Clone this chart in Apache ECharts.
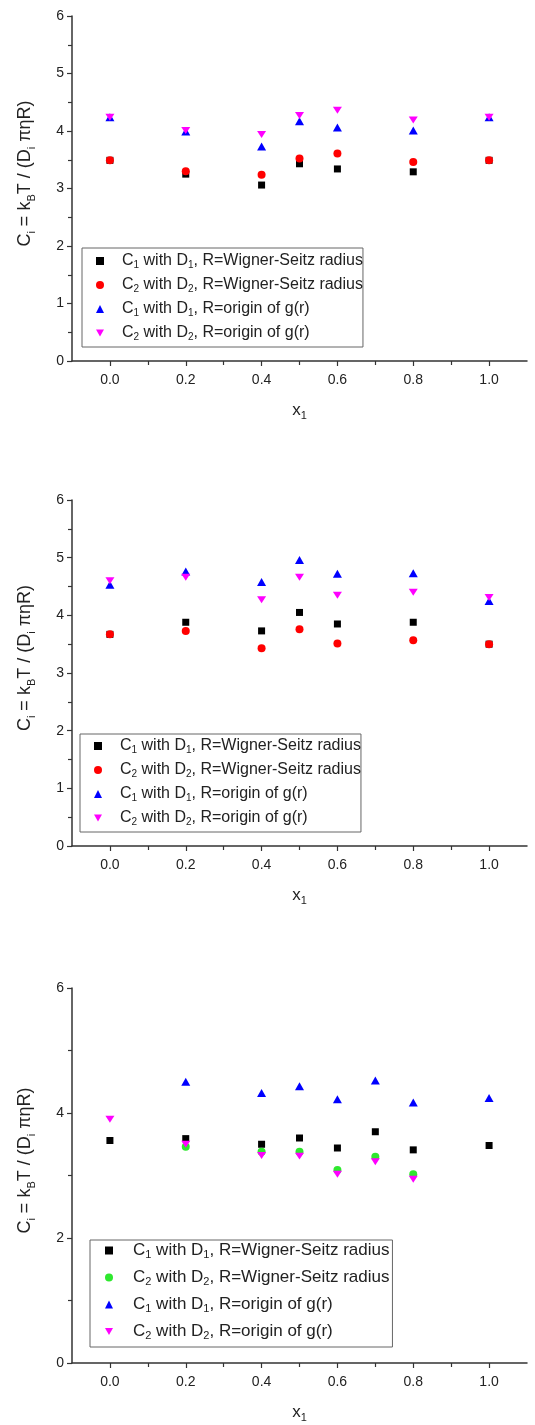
<!DOCTYPE html>
<html><head><meta charset="utf-8">
<script src="https://cdn.jsdelivr.net/npm/echarts@6/dist/echarts.min.js"></script>
<style>html,body{margin:0;padding:0;background:#fff}#c{width:535px;height:1425px}</style>
</head><body><div id="c"></div>
<script>
// ---- data ----
const xs12 = [0, 0.2, 0.4, 0.5, 0.6, 0.8, 1.0];
const p1_c1ws = [3.49, 3.25, 3.06, 3.43, 3.34, 3.29, 3.49];
const p1_c2ws = [3.49, 3.30, 3.24, 3.52, 3.61, 3.46, 3.49];
const p1_c1g  = [4.24, 3.99, 3.73, 4.17, 4.06, 4.01, 4.24];
const p1_c2g  = [4.24, 4.01, 3.94, 4.27, 4.36, 4.19, 4.24];

const p2_c1ws = [3.67, 3.88, 3.73, 4.05, 3.85, 3.88, 3.50];
const p2_c2ws = [3.67, 3.73, 3.43, 3.76, 3.51, 3.57, 3.50];
const p2_c1g  = [4.53, 4.76, 4.58, 4.96, 4.72, 4.73, 4.25];
const p2_c2g  = [4.60, 4.66, 4.27, 4.66, 4.35, 4.40, 4.31];

const xs3 = [0, 0.2, 0.4, 0.5, 0.6, 0.7, 0.8, 1.0];
const p3_c1ws = [3.56, 3.59, 3.50, 3.60, 3.44, 3.70, 3.41, 3.48];
const p3_c2ws = [null, 3.46, 3.38, 3.38, 3.09, 3.30, 3.02, null];
const p3_c1g  = [null, 4.50, 4.32, 4.43, 4.22, 4.52, 4.17, 4.24];
const p3_c2g  = [3.90, 3.50, 3.32, 3.31, 3.02, 3.22, 2.94, null];

const xMajorTicks = [0, 0.2, 0.4, 0.6, 0.8, 1.0];
const xMinorTicks = [0.1, 0.3, 0.5, 0.7, 0.9];
const legendLabels = [
  'C{sub|1} with D{sub|1}, R=Wigner-Seitz radius',
  'C{sub|2} with D{sub|2}, R=Wigner-Seitz radius',
  'C{sub|1} with D{sub|1}, R=origin of g(r)',
  'C{sub|2} with D{sub|2}, R=origin of g(r)'
];
const yName = 'C{sub|i} = k{sub|B}T / (D{sub|i} πηR)';
const xName = 'x{sub|1}';

// ---- layout ----
const panels = [
  {top: 16, height: 345, yInterval: 1, legendLeft: 82, legendTop: 248, fs: 16, lh: 18, gap: 6, pad: [4, 0, 5, 14], tpad: 13,
   xs: xs12, series: [p1_c1ws, p1_c2ws, p1_c1g, p1_c2g], colors: ['#000000', '#ff0000', '#0000ff', '#ff00ff']},
  {top: 500, height: 346, yInterval: 1, legendLeft: 80, legendTop: 734, fs: 16, lh: 18, gap: 6, pad: [3, 0, 5, 14], tpad: 13,
   xs: xs12, series: [p2_c1ws, p2_c2ws, p2_c1g, p2_c2g], colors: ['#000000', '#ff0000', '#0000ff', '#ff00ff']},
  {top: 988, height: 375, yInterval: 2, legendLeft: 90, legendTop: 1240, fs: 17, lh: 19, gap: 8, pad: [1, 3, 6, 15], tpad: 15,
   xs: xs3, series: [p3_c1ws, p3_c2ws, p3_c1g, p3_c2g], colors: ['#000000', '#2ee82e', '#0000ff', '#ff00ff']}
];
const downTri = 'path://M0,0L10,0L5,8.7Z';
const symbols = [['rect', 7], ['circle', 8], ['triangle', [9, 8]], [downTri, [9, 8]]];
const axisColor = '#333';
const textColor = '#222';
const font = 'Liberation Sans, Arial, sans-serif';
const subRich = (fs) => ({ sub: {fontSize: Math.round(fs * 0.62), verticalAlign: 'bottom', lineHeight: 10, fontFamily: font, color: textColor} });

const grid = [], xAxis = [], yAxis = [], series = [], legend = [];
panels.forEach((p, gi) => {
  grid.push({left: 72, width: 455, top: p.top, height: p.height});
  xAxis.push({
    type: 'value', gridIndex: gi, min: -0.1, max: 1.1,
    axisLine: {onZero: false, lineStyle: {color: axisColor, width: 1.5}},
    axisTick: {customValues: xMajorTicks, length: 5, lineStyle: {color: axisColor, width: 1.2}},
    axisLabel: {customValues: xMajorTicks, formatter: v => v.toFixed(1), fontSize: 14, color: textColor, fontFamily: font, margin: 12},
    splitLine: {show: false},
    name: xName, nameLocation: 'middle', nameGap: 38,
    nameTextStyle: {fontSize: 17, color: textColor, fontFamily: font, lineHeight: 22, rich: subRich(17)}
  });
  xAxis.push({
    type: 'value', gridIndex: gi, min: -0.1, max: 1.1, position: 'bottom',
    axisLine: {show: false},
    axisTick: {customValues: xMinorTicks, length: 4, lineStyle: {color: axisColor, width: 1.2}},
    axisLabel: {show: false}, splitLine: {show: false}
  });
  yAxis.push({
    type: 'value', gridIndex: gi, min: 0, max: 6, interval: p.yInterval,
    axisLine: {show: true, onZero: false, lineStyle: {color: axisColor, width: 1.5}},
    axisTick: {show: true, length: 5, lineStyle: {color: axisColor, width: 1.2}},
    minorTick: {show: true, splitNumber: 2, length: 4, lineStyle: {color: axisColor, width: 1.2}},
    axisLabel: {fontSize: 14, color: textColor, fontFamily: font, margin: 8},
    splitLine: {show: false},
    name: yName, nameLocation: 'middle', nameRotate: 90, nameGap: 35,
    nameTextStyle: {fontSize: 18, color: textColor, fontFamily: font, lineHeight: 23, padding: [0, 0, 0, 30], rich: subRich(18)}
  });
  const names = [];
  p.series.forEach((vals, si) => {
    const nm = 'p' + gi + '_s' + si;
    names.push(nm);
    const data = [];
    p.xs.forEach((x, k) => { if (vals[k] != null) data.push([x, vals[k]]); });
    series.push({
      type: 'scatter', name: nm, xAxisIndex: gi * 2, yAxisIndex: gi, data: data,
      symbol: symbols[si][0], symbolSize: symbols[si][1], symbolKeepAspect: true,
      itemStyle: {color: p.colors[si], opacity: 1}, emphasis: {disabled: true}, z: 2 + si
    });
  });
  legend.push({
    data: names, orient: 'vertical', left: p.legendLeft, top: p.legendTop,
    borderColor: '#666', borderWidth: 1, padding: p.pad, itemGap: p.gap,
    itemWidth: 8, itemHeight: 8, selectedMode: false,
    formatter: nm => legendLabels[+nm.split('_s')[1]],
    textStyle: {fontSize: p.fs, color: textColor, fontFamily: font, lineHeight: p.lh, padding: [0, 0, 0, p.tpad], rich: subRich(p.fs)}
  });
});

const chart = echarts.init(document.getElementById('c'), null, {renderer: 'canvas'});
chart.setOption({animation: false, backgroundColor: '#fff', grid, xAxis, yAxis, series, legend});
</script></body></html>
